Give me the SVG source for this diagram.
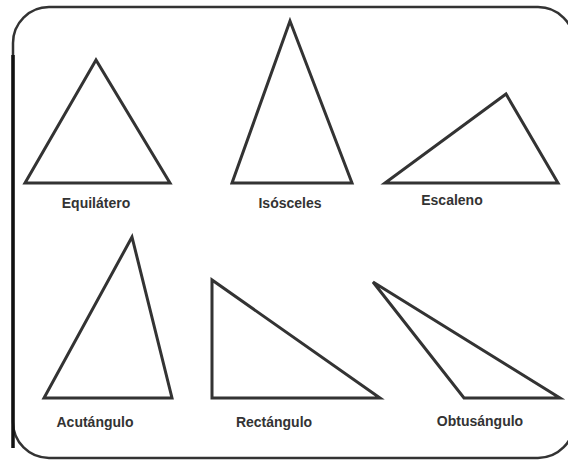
<svg xmlns="http://www.w3.org/2000/svg" width="568" height="460" viewBox="0 0 568 460">
<style>
.tri{fill:none;stroke:#333;stroke-width:3;stroke-linejoin:miter}
.lbl{font-family:"Liberation Sans",Arial,sans-serif;font-weight:bold;font-size:14px;fill:#333;text-anchor:middle}
.frame{fill:#fff;stroke:#333;stroke-width:2.5}
</style>
<rect class="frame" x="13" y="7" width="561" height="451" rx="36"/>
<line x1="13" y1="55" x2="13" y2="448" stroke="#111" stroke-width="3.5"/>
<g id="equilatero">
<polygon class="tri" points="96,60 25,183 170,183"/>
<text class="lbl" x="96" y="208">Equilátero</text>
</g>
<g id="isosceles">
<polygon class="tri" points="290,21 232,183 352,183"/>
<text class="lbl" x="290" y="208">Isósceles</text>
</g>
<g id="escaleno">
<polygon class="tri" points="506,94 385,183 558,183"/>
<text class="lbl" x="452" y="205">Escaleno</text>
</g>
<g id="acutangulo">
<polygon class="tri" points="132,237 44,398 172,398"/>
<text class="lbl" x="95" y="427">Acutángulo</text>
</g>
<g id="rectangulo">
<polygon class="tri" points="212,280 212,398 380,398"/>
<text class="lbl" x="274" y="427">Rectángulo</text>
</g>
<g id="obtusangulo">
<polygon class="tri" points="373,282 464,398 560,398"/>
<text class="lbl" x="480" y="426">Obtusángulo</text>
</g>
<g id="connectors"/>
</svg>
